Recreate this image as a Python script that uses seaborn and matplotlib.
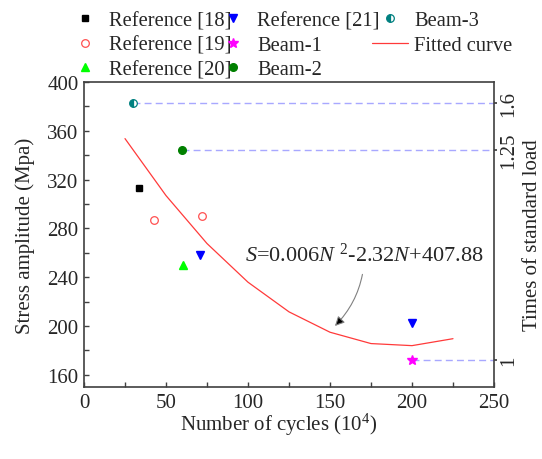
import numpy as np
import matplotlib
matplotlib.use("Agg")
import matplotlib.pyplot as plt
import seaborn as sns
from matplotlib.ticker import MultipleLocator, NullLocator

# --- data ---
ref18_x = [33.5]
ref18_y = [313]
ref19_x = [42.5, 72]
ref19_y = [286.5, 290.5]
ref20_x = [60.5]
ref20_y = [250]
ref21_x = [71, 200]
ref21_y = [258.5, 202.5]
beam1_x = [200]
beam1_y = [172.5]
beam2_x = [60]
beam2_y = [344.5]
beam3_x = [30]
beam3_y = [382.5]

fit_x = [25, 50, 75, 100, 125, 150, 175, 200, 225]
fit_y = [353.6, 306.9, 267.6, 235.9, 211.6, 194.9, 185.6, 183.9, 189.6]

right_ticks = [172.5, 344.5, 382.5]
right_labels = ["1", "1.25", "1.6"]

sns.set_theme(style="ticks")
plt.rcParams['font.family'] = ['Liberation Serif', 'DejaVu Serif']
plt.rcParams['mathtext.fontset'] = 'custom'
plt.rcParams['mathtext.rm'] = 'Liberation Serif'
plt.rcParams['mathtext.it'] = 'Liberation Serif:italic'

AX_COLOR = "#404040"
DASH_COLOR = "#a8a8ff"
W, H = 542, 460

fig = plt.figure(figsize=(5.42, 4.60), dpi=100)
ax = fig.add_axes([84/W, 1 - 388/H, 410/W, 305/H])

# horizontal dashed guides from beam points
for bx, by in [(beam3_x[0], beam3_y[0]), (beam2_x[0], beam2_y[0]), (beam1_x[0], beam1_y[0])]:
    ax.plot([bx, 250], [by, by], color=DASH_COLOR, lw=1.0, dashes=(5, 3), zorder=1)

h18, = ax.plot(ref18_x, ref18_y, ls='none', marker='s', ms=5, color='black', label='Reference [18]')
h19, = ax.plot(ref19_x, ref19_y, ls='none', marker='o', ms=5.5, mfc='none', mec='#ff5050', mew=0.9,
               label='Reference [19]')
h20, = ax.plot(ref20_x, ref20_y, ls='none', marker='^', ms=6, color='#00ff00', label='Reference [20]')
h21, = ax.plot(ref21_x, ref21_y, ls='none', marker='v', ms=6, color='#0000ff', label='Reference [21]')
hb1, = ax.plot(beam1_x, beam1_y, ls='none', marker='*', ms=7.5, color='#ff00ff', label='Beam-1')
hb2, = ax.plot(beam2_x, beam2_y, ls='none', marker='o', ms=5.5, color='#008000', label='Beam-2')
hb3, = ax.plot(beam3_x, beam3_y, ls='none', marker='o', ms=5.5, fillstyle='left', mfc='#008080',
               mfcalt='white', mec='#008080', mew=0.9, label='Beam-3')
sns.lineplot(x=fit_x, y=fit_y, ax=ax, color='#ff3a3a', lw=0.9, label='Fitted curve')
hfit = ax.get_lines()[-1]
if ax.legend_:
    ax.legend_.remove()

ax.set_xlim(0, 250)
ax.set_ylim(150, 400)
ax.xaxis.set_major_locator(MultipleLocator(50))
ax.xaxis.set_minor_locator(MultipleLocator(25))
ax.set_yticks([160, 200, 240, 280, 320, 360, 400])
ax.yaxis.set_minor_locator(MultipleLocator(20))
ax.tick_params(axis='both', which='both', direction='in', length=3.5, width=1,
               color=AX_COLOR, labelsize=15, pad=4)
for sp in ax.spines.values():
    sp.set_color(AX_COLOR)
    sp.set_linewidth(1.2)

ax.set_xlabel("Number of cycles (10$^4$)", fontsize=15)
ax.xaxis.set_label_coords((279 - 84) / 410, -(412 - 388) / 305)
ax.set_ylabel("Stress amplitude (Mpa)", fontsize=15, labelpad=9)

# right axis: times of standard load
ax2 = ax.twinx()
ax2.set_ylim(ax.get_ylim())
ax2.set_yticks(right_ticks)
ax2.set_yticklabels(right_labels, rotation=90, va='center')
ax2.yaxis.set_minor_locator(NullLocator())
ax2.tick_params(axis='y', direction='out', length=2, color=AX_COLOR, labelsize=15, pad=2)
for sp in ax2.spines.values():
    sp.set_visible(False)
ax2.set_ylabel("Times of standard load", fontsize=15, labelpad=3)

# equation annotation
ax.annotate("$S$=0.006$N$ $^{2}$-2.32$N$+407.88", xy=(153, 200), xytext=(171, 259),
            fontsize=16, ha='center', va='center',
            arrowprops=dict(arrowstyle='-|>', ec='#808080', fc='black', lw=0.8,
                            mutation_scale=14, shrinkA=4, shrinkB=0,
                            connectionstyle='arc3,rad=-0.2'))

# legend in three columns, placed like the reference
columns = [([h18, h19, h20], 67), ([h21, hb1, hb2], 215), ([hb3, hfit], 372)]
for hs, x0 in columns:
    fig.legend(hs, [h.get_label() for h in hs], loc='upper left',
               bbox_to_anchor=(x0 / W, 1 - 12 / H), frameon=False, fontsize=14.8,
               handlelength=1.75, handletextpad=0.3, labelspacing=0.25,
               borderpad=0, borderaxespad=0)

fig.savefig("out.png", dpi=100)
